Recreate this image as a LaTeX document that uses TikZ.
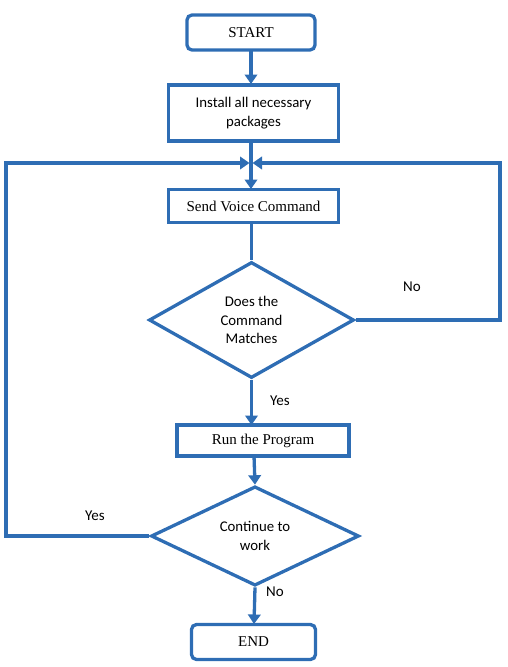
\documentclass[tikz,border=0pt]{standalone}
\usepackage{fontspec}
\setmainfont{Liberation Serif}
\newfontfamily\calib{Carlito}
\usetikzlibrary{shapes.geometric,arrows.meta}
\definecolor{fc}{RGB}{46,109,180}
\tikzset{
  box/.style={draw=fc, line width=3.3pt, rectangle, inner sep=0pt, align=center,
    font=\fontsize{15}{19}\selectfont},
  term/.style={box, rounded corners=5pt},
  sbox/.style={box, font=\calib\fontsize{14.8}{19}\selectfont},
  decide/.style={draw=fc, line width=3.3pt, diamond, inner sep=0pt, align=center,
    font=\calib\fontsize{14.8}{18.5}\selectfont},
  lbl/.style={font=\calib\fontsize{15}{18}\selectfont, inner sep=0pt},
  conn/.style={draw=fc, line width=3.3pt},
  arr/.style={conn, -{Triangle[length=9.5pt,width=12.5pt]}},
}
\begin{document}
\begin{tikzpicture}[x=1pt,y=-1pt]
\useasboundingbox (0,0) rectangle (508,667);
\node[term, minimum width=128pt, minimum height=35pt] (start) at (251,32.5) {START};
\node[sbox, minimum width=170pt, minimum height=56pt] (install) at (253.5,113) {Install all necessary\\packages};
\node[box, minimum width=170pt, minimum height=33pt] (send) at (253.5,206) {Send Voice Command};
\node[decide, minimum width=205pt, minimum height=116pt] (match) at (251.5,320) {Does the\\Command\\Matches};
\node[box, minimum width=172pt, minimum height=31pt] (run) at (263,440.5) {Run the Program};
\node[decide, minimum width=208pt, minimum height=84pt] (cont) at (255,536) {Continue to\\work};
\node[term, minimum width=124pt, minimum height=35pt] (end) at (253.5,642) {END};

\coordinate (merge) at (251,163);
\coordinate (lc) at (6,163);
\coordinate (rc) at (500,163);

\draw[arr] (251,49.5) -- (251,84);
\draw[conn] (251,141) -- (merge);
\draw[arr] (merge) -- (251,189);
\draw[arr] (cont.west) -- (lc |- cont.west) -- (lc) -- ([xshift=-1.5pt]merge);
\draw[arr] (match.east) -- (rc |- match.east) -- (rc) -- ([xshift=1.5pt]merge);
\draw[conn] (251.5,222) -- (match.north);
\draw[arr] (match.south) -- (251.5,425);
\draw[arr] (254,455.5) -- (cont.north);
\draw[arr] (cont.south) -- (254,624);

\node[lbl] (no1) at (412,287) {No};
\node[lbl] (yes1) at (280,401) {Yes};
\node[lbl] (yes2) at (95,516) {Yes};
\node[lbl] (no2) at (275,592) {No};
\end{tikzpicture}
\end{document}
